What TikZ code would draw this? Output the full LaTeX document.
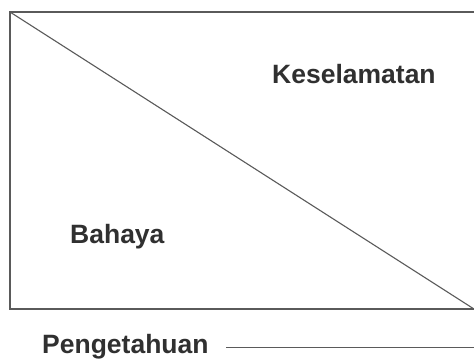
\documentclass[tikz,border=0pt]{standalone}
\usepackage{fontspec}
\setmainfont{Liberation Sans}
\definecolor{linegray}{HTML}{5A5A5A}
\definecolor{textgray}{HTML}{303030}
\begin{document}
\begin{tikzpicture}[x=1pt,y=-1pt,
  lbl/.style={anchor=base west,inner sep=0pt,text=textgray,font=\fontsize{26.5}{30}\selectfont\bfseries},
  frame/.style={draw=linegray,line width=1.4pt},
  thin/.style={draw=linegray,line width=1.1pt}]
\useasboundingbox[fill=white] (0,0) rectangle (474,360);
\coordinate (tl) at (10,12);
\coordinate (br) at (474,309);
\draw[frame] (476,12) -- (tl) -- (10,309) -- (476,309);
\draw[thin] (tl) -- (br);
\node[lbl] (kes) at (272,83) {Keselamatan};
\node[lbl] (bah) at (70,243) {Bahaya};
\node[lbl] (pen) at (42,353.5) {Pengetahuan};
\coordinate (pstart) at (226,347.5);
\coordinate (pend) at (476,347.5);
\draw[thin] (pstart) -- (pend);
\end{tikzpicture}
\end{document}
